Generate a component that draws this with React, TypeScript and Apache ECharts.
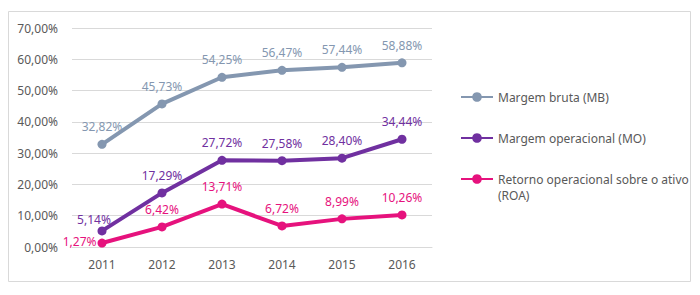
import React, { useEffect, useRef } from "react";
import * as echarts from "echarts";

const categories = ["2011", "2012", "2013", "2014", "2015", "2016"];
const margemBruta = [32.82, 45.73, 54.25, 56.47, 57.44, 58.88];
const margemOperacional = [5.14, 17.29, 27.72, 27.58, 28.4, 34.44];
const roa = [1.27, 6.42, 13.71, 6.72, 8.99, 10.26];
const seriesNames = [
  "Margem bruta (MB)",
  "Margem operacional (MO)",
  "Retorno operacional sobre o ativo (ROA)",
];

const fmt = (v: number) => v.toFixed(2).replace(".", ",") + "%";
const FONT = "Noto Sans";
const colors = ["#8497B0", "#7030A0", "#E6127D"];

export default function App() {
  const ref = useRef<HTMLDivElement>(null);
  useEffect(() => {
    const chart = echarts.init(ref.current!, null, { renderer: "svg" });
    const mkSeries = (name: string, data: number[], color: string, idx: number) => ({
      name,
      type: "line",
      data: data.map((v, i) => {
        if (i === 0 && idx === 1) {
          return { value: v, label: { position: "top", distance: 1, offset: [-8, 0] } };
        }
        if (i === 0 && idx === 2) {
          return { value: v, label: { position: "left", distance: 1, offset: [0, -2] } };
        }
        return v;
      }),
      symbol: "circle",
      symbolSize: 9,
      lineStyle: { width: 4, color },
      itemStyle: { color },
      label: {
        show: true,
        position: "top",
        distance: 7,
        color,
        fontFamily: FONT,
        fontSize: 12,
        formatter: (p: any) => fmt(p.value),
      },
    });
    const legendBase = {
      left: 455,
      orient: "vertical",
      itemWidth: 32,
      itemHeight: 12,
      textStyle: { color: "#595959", fontFamily: FONT, fontSize: 12, lineHeight: 16 },
    };
    chart.setOption({
      animation: false,
      graphic: [
        {
          type: "rect",
          shape: { x: 8.5, y: 11.5, width: 682, height: 270 },
          style: { fill: "none", stroke: "#D9D9D9", lineWidth: 1 },
          silent: true,
        },
      ],
      legend: [
        { ...legendBase, top: 84, data: [seriesNames[0]] },
        { ...legendBase, top: 125, data: [seriesNames[1]] },
        {
          ...legendBase,
          top: 150,
          data: [seriesNames[2]],
          formatter: () => " \nRetorno operacional sobre o ativo\n(ROA)",
        },
      ],
      grid: { left: 72, right: 268, top: 28, bottom: 48 },
      xAxis: {
        type: "category",
        data: categories,
        boundaryGap: true,
        axisLine: { show: true, lineStyle: { color: "#D9D9D9", width: 1 } },
        axisTick: { show: false },
        axisLabel: { color: "#595959", fontFamily: FONT, fontSize: 12, margin: 11 },
      },
      yAxis: {
        type: "value",
        min: 0,
        max: 70,
        interval: 10,
        axisLine: { show: false },
        axisTick: { show: false },
        splitLine: { lineStyle: { color: "#D9D9D9", width: 1 } },
        axisLabel: {
          color: "#595959",
          fontFamily: FONT,
          fontSize: 12,
          margin: 14,
          formatter: (v: number) => fmt(v),
        },
      },
      series: [
        mkSeries(seriesNames[0], margemBruta, colors[0], 0),
        mkSeries(seriesNames[1], margemOperacional, colors[1], 1),
        mkSeries(seriesNames[2], roa, colors[2], 2),
      ],
    });
    return () => chart.dispose();
  }, []);
  return (
    <div
      ref={ref}
      style={{ position: "fixed", left: 0, top: 0, width: 700, height: 295, background: "#fff" }}
    />
  );
}
